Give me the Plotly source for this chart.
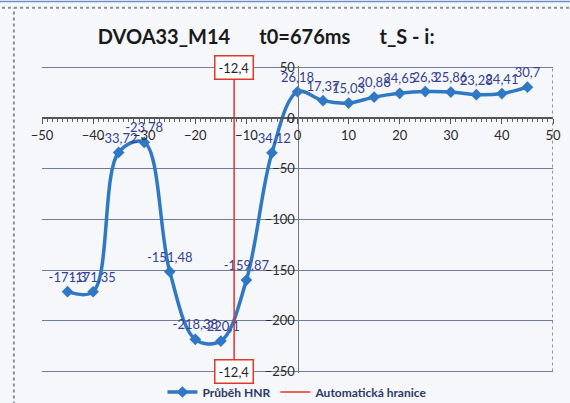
import plotly.graph_objects as go

# Průběh HNR values (x in ms offset, y HNR)
hnr_x = [-45, -40, -35, -30, -25, -20, -15, -10, -5, 0, 5, 10, 15, 20, 25, 30, 35, 40, 45]
hnr_y = [-171.3, -171.35, -33.72, -23.78, -151.48, -218.38, -220.1, -159.87, -34.12,
         26.18, 17.37, 15.03, 20.88, 24.65, 26.3, 25.86, 23.28, 24.41, 30.7]
hnr_labels = ["-171,3", "-171,35", "-33,72", "-23,78", "-151,48", "-218,38", "-220,1",
              "-159,87", "-34,12", "26,18", "17,37", "15,03", "20,88", "24,65", "26,3",
              "25,86", "23,28", "24,41", "30,7"]

# automatic boundary
border_x = -12.4
border_label = "-12,4"
y_min, y_max = -250, 50

BLUE = "#2F78C4"
RED = "#E2352B"
FONT = "Lato, 'Open Sans', sans-serif"

fig = go.Figure()

fig.add_trace(go.Scatter(
    x=hnr_x, y=hnr_y, mode="lines+markers+text", name="Průběh HNR",
    line=dict(color=BLUE, width=3.5, shape="spline", smoothing=1),
    marker=dict(symbol="diamond", size=9, color=BLUE),
    text=hnr_labels, textposition="top center",
    textfont=dict(family=FONT, size=13, color="#34428F"),
))

fig.add_trace(go.Scatter(
    x=[border_x, border_x], y=[y_max, y_min], mode="lines", name="Automatická hranice",
    line=dict(color=RED, width=1.5),
))

# label boxes on the boundary line
for yy in (y_max, y_min):
    fig.add_annotation(
        x=border_x, y=yy, text=border_label, showarrow=False,
        font=dict(family=FONT, size=13, color="#222"),
        bgcolor="white", bordercolor=RED, borderwidth=1.5, borderpad=3,
    )

# right edge of plot area
fig.add_shape(type="line", x0=50, x1=50, y0=y_min, y1=y_max,
              line=dict(color="#707480", width=1.5, dash="dot"))

# outer frame of the scanned sheet
fig.add_shape(type="line", xref="paper", yref="paper", x0=-0.055, x1=-0.055, y0=-0.2, y1=1.19,
              line=dict(color="#8A8F9E", width=2, dash="dot"))
fig.add_shape(type="line", xref="paper", yref="paper", x0=-0.09, x1=1.04, y0=1.19, y1=1.19,
              line=dict(color="#8A8F9E", width=2, dash="dot"))
fig.add_shape(type="line", xref="paper", yref="paper", x0=-0.09, x1=1.04, y0=1.21, y1=1.21,
              line=dict(color="#6F8FC8", width=1.5))

# pad the y range a little so the edge gridlines at 50 and -250 are drawn
y_lo, y_hi = y_min - 1.6, y_max + 1.6

fig.update_layout(
    width=570, height=403,
    # bottom margin is topped up by the legend's reserved space (~10px)
    margin=dict(l=42, r=17, t=66, b=30),
    paper_bgcolor="#F5F7FB", plot_bgcolor="#F5F7FB",
    title=dict(text="<b>DVOA33_M14      t0=676ms      t_S - i:</b>",
               xref="container", x=0.467, xanchor="center",
               yref="container", y=0.908, yanchor="middle",
               font=dict(family=FONT, size=20, color="#1A1A1A")),
    font=dict(family=FONT),
    showlegend=True,
    legend=dict(orientation="h", xref="container", x=0.285, xanchor="left",
                yref="container", y=0.0273, yanchor="middle",
                itemwidth=30,
                bgcolor="rgba(0,0,0,0)",
                font=dict(family=FONT, size=12, color="#2B3A67", weight="bold")),
    xaxis=dict(
        range=[-50, 50], dtick=10, showgrid=False, zeroline=False, automargin=False,
        showline=True, linecolor="#555", linewidth=1.5,
        anchor="free", position=(0 - y_lo) / (y_hi - y_lo),
        ticks="outside", ticklen=5, tickcolor="#555",
        minor=dict(dtick=1, ticks="outside", ticklen=3, tickcolor="#666"),
        tickfont=dict(family=FONT, size=13, color="#2A2A2A"),
    ),
    yaxis=dict(
        range=[y_lo, y_hi], tick0=0, dtick=50, zeroline=False, automargin=False,
        showgrid=True, gridcolor="#6F7D9C", gridwidth=1,
        showline=True, linecolor="#777", linewidth=1,
        anchor="free", position=0.5,
        tickfont=dict(family=FONT, size=13, color="#2A2A2A"),
    ),
)

fig.write_html("out.html", config={"displayModeBar": False},
               post_script="document.body.style.margin='0';")
